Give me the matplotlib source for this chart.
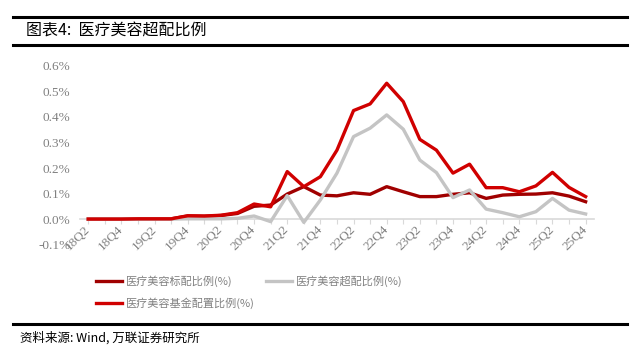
#! /usr/bin/env python3

import matplotlib
matplotlib.use('Agg')
import matplotlib.pyplot as plt
import numpy as np

plt.rcParams['font.family']=['Noto Sans CJK SC', 'DejaVu Sans']

quarters=['18Q2', '18Q3', '18Q4',
          '19Q1', '19Q2', '19Q3', '19Q4',
          '20Q1', '20Q2', '20Q3', '20Q4',
          '21Q1', '21Q2', '21Q3', '21Q4',
          '22Q1', '22Q2', '22Q3', '22Q4',
          '23Q1', '23Q2', '23Q3', '23Q4',
          '24Q1', '24Q2', '24Q3', '24Q4',
          '25Q1', '25Q2', '25Q3', '25Q4']

# values in %
standard=[0.000, 0.000, 0.000, 0.001, 0.001, 0.001, 0.012,
          0.011, 0.014, 0.022, 0.050, 0.055, 0.098, 0.127,
          0.094, 0.091, 0.103, 0.097, 0.127, 0.107, 0.088,
          0.088, 0.097, 0.103, 0.081, 0.094, 0.097, 0.098,
          0.103, 0.090, 0.068]
overweight=[0.000, 0.000, 0.000, 0.000, 0.000, 0.000, 0.001,
            0.001, 0.001, 0.003, 0.012, -0.010, 0.092, -0.013,
            0.075, 0.180, 0.323, 0.356, 0.408, 0.352, 0.231,
            0.182, 0.084, 0.114, 0.039, 0.025, 0.009, 0.029,
            0.081, 0.035, 0.020]
fund=[0.000, 0.000, 0.000, 0.001, 0.001, 0.001, 0.013,
      0.012, 0.015, 0.025, 0.059, 0.048, 0.186, 0.127,
      0.166, 0.270, 0.425, 0.451, 0.532, 0.460, 0.312,
      0.270, 0.180, 0.215, 0.123, 0.123, 0.107, 0.130,
      0.183, 0.124, 0.088]

yticks=[-0.1, 0.0, 0.1, 0.2, 0.3, 0.4, 0.5, 0.6]

def Plot():
    fig=plt.figure(figsize=(6.4, 3.64), dpi=100)
    ax=fig.add_axes([0.125, 0.328, 0.803, 0.491])
    # category axis crosses at zero (set before ticks, it resets them)
    for s in ['top', 'right', 'left']:
        ax.spines[s].set_visible(False)
    ax.spines['bottom'].set_position(('data', 0))
    ax.spines['bottom'].set_color('#D9D9D9')
    ax.spines['bottom'].set_linewidth(1.2)
    ax.spines['bottom'].set_zorder(0)
    ax.set_facecolor('none')

    x=np.arange(len(quarters))
    l1,=ax.plot(x, standard, color='#A00000', lw=2.4, label='医疗美容标配比例(%)')
    l2,=ax.plot(x, overweight, color='#C4C4C4', lw=2.4, label='医疗美容超配比例(%)')
    l3,=ax.plot(x, fund, color='#D00000', lw=2.4, label='医疗美容基金配置比例(%)')
    ax.set_xlim(-0.5, len(quarters)-0.5)
    ax.set_ylim(-0.1, 0.6)
    ax.set_yticks(yticks)
    ax.set_yticklabels(['%.1f%%' % v for v in yticks], family=['Liberation Serif'],
                       fontsize=9.5, color='#808080')
    ax.set_xticks(x)
    ax.set_xticklabels([q if i % 2 == 0 else '' for i, q in enumerate(quarters)],
                       rotation=45, ha='right', va='center', rotation_mode='anchor',
                       family=['Liberation Serif'], fontsize=9.5, color='#808080')
    ax.tick_params(axis='y', length=0, pad=7)
    ax.tick_params(axis='x', length=3.5, color='#D9D9D9', direction='out', pad=3)

    leg=fig.legend([l1, l3, l2], [l1.get_label(), l3.get_label(), l2.get_label()],
                   ncol=2, loc='upper left', bbox_to_anchor=(0.135, 0.27),
                   frameon=False, fontsize=8, handlelength=2.3,
                   columnspacing=1.0, labelspacing=0.95, handletextpad=0.4)
    for t in leg.get_texts():
        t.set_color('#808080')

    # header and footer rules
    fig.add_artist(plt.Line2D([0.021, 0.98], [1-17/364, 1-17/364], color='black', lw=2.2))
    fig.add_artist(plt.Line2D([0.021, 0.98], [1-45/364, 1-45/364], color='black', lw=2.2))
    fig.add_artist(plt.Line2D([0.021, 0.98], [1-324/364, 1-324/364], color='black', lw=2.2))
    fig.text(0.04, 1-31/364, '图表4:  医疗美容超配比例', fontsize=11.5, va='center', color='black')
    fig.text(0.031, 1-338/364, '资料来源: Wind, 万联证券研究所', fontsize=9, va='center',
             style='italic', color='black')
    return fig

def Run():
    fig=Plot()
    fig.savefig('out.png', dpi=100)


if __name__ == "__main__":
    Run()
